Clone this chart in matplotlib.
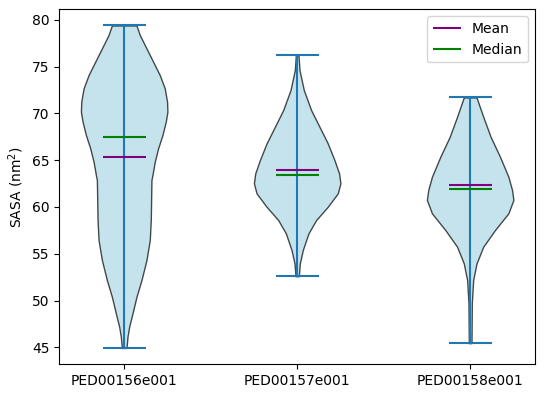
import matplotlib
matplotlib.use("Agg")
import matplotlib.pyplot as plt
import numpy as np

# Group names
labels = ['PED00156e001', 'PED00157e001', 'PED00158e001']

# Summary stats (nm^2)
means = [65.3, 64.0, 62.3]
medians = [67.5, 63.4, 61.9]
mins = [44.94, 52.6, 45.45]
maxs = [79.39, 76.2, 71.7]

# Density profiles (SASA value, relative width)
v1_sasa = [44.94, 46.13, 47.2, 48.63, 50.41, 52.19, 54.33, 56.46, 58.6, 60.74,
           62.87, 63.41, 64.83, 66.26, 67.68, 69.1, 70.17, 71.24, 72.67, 74.09,
           75.52, 76.94, 78.37, 79.39]
v1_dens = [7, 10, 15, 25, 37, 52, 67, 77, 80, 81,
           82, 85, 92, 102, 115, 125, 130, 129, 122, 107,
           87, 67, 47, 37]

v2_sasa = [52.6, 53.97, 55.4, 57.18, 58.6, 60.02, 61.45, 62.52, 63.59, 65.01,
           66.79, 68.57, 70.35, 72.49, 74.63, 76.2]
v2_dens = [5, 8, 17, 34, 57, 92, 122, 130, 126, 112,
           92, 67, 42, 20, 7, 4]

v3_sasa = [45.45, 49.7, 52.19, 53.97, 55.75, 57.53, 59.32, 60.74, 61.81, 63.23,
           65.36, 67.5, 69.64, 71.7]
v3_dens = [4, 5, 9, 19, 39, 74, 114, 129, 125, 114,
           89, 61, 39, 19]

profiles = [(v1_sasa, v1_dens), (v2_sasa, v2_dens), (v3_sasa, v3_dens)]


def main():
    fig = plt.figure(figsize=(5.44, 3.97), dpi=100)
    ax = fig.add_axes([0.109, 0.083, 0.8745, 0.8935])

    positions = [1, 2, 3]
    vpstats = []
    for (sasa, dens), mu, med, lo, hi in zip(profiles, means, medians, mins, maxs):
        vpstats.append({'coords': np.array(sasa), 'vals': np.array(dens, dtype=float),
                        'mean': mu, 'median': med, 'min': lo, 'max': hi})

    parts = ax.violin(vpstats, positions=positions, widths=0.5,
                      showmeans=False, showextrema=True, showmedians=False)
    for body in parts['bodies']:
        body.set_facecolor('lightblue')
        body.set_edgecolor('black')
        body.set_alpha(0.7)
        body.set_linewidth(1)

    # Mean and median markers
    for i, pos in enumerate(positions):
        ax.hlines(means[i], pos - 0.125, pos + 0.125, color='purple', linewidth=1.5,
                  label='Mean' if i == 0 else None)
        ax.hlines(medians[i], pos - 0.125, pos + 0.125, color='green', linewidth=1.5,
                  label='Median' if i == 0 else None)

    ax.set_xticks(positions)
    ax.set_xticklabels(labels)
    ax.set_ylabel('SASA (nm$^2$)')
    ax.legend(loc='upper right')

    fig.savefig('out.png', dpi=100)
    plt.close(fig)


if __name__ == "__main__":
    main()
